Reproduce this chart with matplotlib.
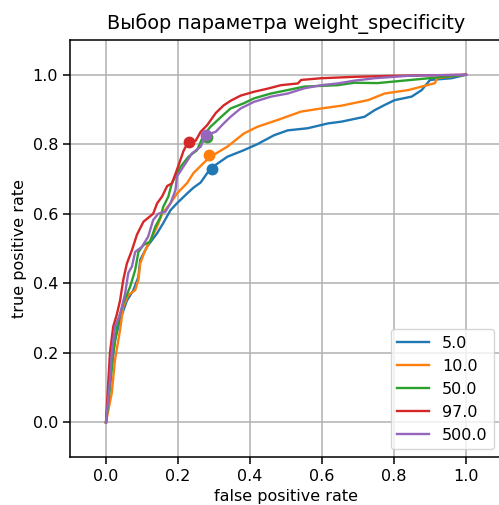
import matplotlib
matplotlib.use("Agg")
import matplotlib.pyplot as plt

title = "Выбор параметра weight_specificity"
labels = ["5.0", "10.0", "50.0", "97.0", "500.0"]
colors = ["#1f77b4", "#ff7f0e", "#2ca02c", "#d62728", "#9467bd"]

fpr_5 = [0, 0.011, 0.025, 0.039, 0.058, 0.076, 0.09, 0.095, 0.114, 0.142, 0.159, 0.179, 0.197, 0.225, 0.243, 0.263, 0.29,
         0.337, 0.383, 0.42, 0.467, 0.505, 0.56, 0.617, 0.654, 0.718, 0.746, 0.774, 0.802, 0.849, 0.877, 0.9, 0.96, 1.0]
tpr_5 = [0, 0.12, 0.236, 0.294, 0.35, 0.38, 0.418, 0.467, 0.505, 0.544, 0.573, 0.61, 0.63, 0.658, 0.675, 0.69, 0.73,
         0.764, 0.783, 0.80, 0.826, 0.84, 0.846, 0.86, 0.865, 0.879, 0.898, 0.913, 0.927, 0.937, 0.956, 0.985, 0.99, 1.0]

fpr_10 = [0, 0.016, 0.025, 0.039, 0.048, 0.062, 0.081, 0.09, 0.095, 0.109, 0.128, 0.142, 0.156, 0.179, 0.197, 0.225,
          0.243, 0.271, 0.29, 0.337, 0.383, 0.42, 0.477, 0.542, 0.598, 0.654, 0.728, 0.774, 0.84, 0.877, 0.914, 0.919,
          0.98, 1.0]
tpr_10 = [0, 0.084, 0.18, 0.265, 0.333, 0.366, 0.38, 0.41, 0.457, 0.495, 0.534, 0.563, 0.60, 0.63, 0.658, 0.688,
          0.717, 0.746, 0.764, 0.793, 0.831, 0.85, 0.87, 0.894, 0.903, 0.911, 0.927, 0.946, 0.956, 0.966, 0.976, 0.99,
          0.998, 1.0]

fpr_50 = [0, 0.011, 0.02, 0.034, 0.048, 0.067, 0.081, 0.09, 0.104, 0.123, 0.137, 0.151, 0.159, 0.173, 0.183, 0.207,
          0.229, 0.253, 0.271, 0.29, 0.318, 0.346, 0.383, 0.411, 0.458, 0.505, 0.551, 0.598, 0.644, 0.69, 0.754, 1.0]
tpr_50 = [0, 0.1, 0.2, 0.294, 0.342, 0.39, 0.438, 0.49, 0.51, 0.52, 0.563, 0.59, 0.62, 0.649, 0.688, 0.735,
          0.764, 0.783, 0.826, 0.85, 0.877, 0.903, 0.918, 0.932, 0.946, 0.956, 0.966, 0.968, 0.97, 0.977, 0.976, 1.0]

fpr_97 = [0, 0.011, 0.02, 0.03, 0.039, 0.048, 0.058, 0.072, 0.086, 0.104, 0.131, 0.142, 0.156, 0.17, 0.183, 0.2,
          0.215, 0.229, 0.249, 0.263, 0.281, 0.305, 0.327, 0.346, 0.374, 0.411, 0.449, 0.486, 0.533, 0.542, 0.598,
          0.69, 0.8, 1.0]
tpr_97 = [0, 0.2, 0.275, 0.31, 0.35, 0.41, 0.457, 0.495, 0.54, 0.577, 0.60, 0.63, 0.65, 0.68, 0.687, 0.735,
          0.78, 0.808, 0.81, 0.836, 0.855, 0.89, 0.912, 0.925, 0.94, 0.951, 0.96, 0.97, 0.975, 0.985, 0.99,
          0.994, 0.997, 1.0]

fpr_500 = [0, 0.011, 0.016, 0.025, 0.039, 0.053, 0.062, 0.072, 0.081, 0.1, 0.117, 0.131, 0.145, 0.165, 0.179, 0.193,
           0.197, 0.221, 0.239, 0.263, 0.277, 0.305, 0.327, 0.346, 0.374, 0.411, 0.458, 0.505, 0.551, 0.598, 0.644,
           0.69, 0.746, 0.84, 1.0]
tpr_500 = [0, 0.12, 0.2, 0.275, 0.31, 0.37, 0.43, 0.448, 0.49, 0.505, 0.534, 0.582, 0.60, 0.606, 0.63, 0.668,
           0.707, 0.745, 0.774, 0.793, 0.826, 0.836, 0.86, 0.879, 0.903, 0.922, 0.937, 0.946, 0.961, 0.97, 0.975,
           0.983, 0.99, 0.997, 1.0]

# chosen operating points
point_fpr = [0.295, 0.286, 0.28, 0.23, 0.277]
point_tpr = [0.728, 0.769, 0.82, 0.807, 0.826]

curves = [(fpr_5, tpr_5), (fpr_10, tpr_10), (fpr_50, tpr_50), (fpr_97, tpr_97), (fpr_500, tpr_500)]

fig = plt.figure(figsize=(4.99, 5.05), dpi=100)
ax = fig.add_axes([70 / 499, 1 - 457 / 505, 432 / 499, 417 / 505])

for (fx, ty), lab, c, px, py in zip(curves, labels, colors, point_fpr, point_tpr):
    ax.plot(fx, ty, color=c, lw=1.7, label=lab)
    ax.plot([px], [py], "o", color=c, ms=7.5)

ax.set_xlim(-0.1, 1.1)
ax.set_ylim(-0.1, 1.1)
ax.set_xticks([0.0, 0.2, 0.4, 0.6, 0.8, 1.0])
ax.set_yticks([0.0, 0.2, 0.4, 0.6, 0.8, 1.0])
ax.grid(True, color="#b0b0b0", lw=1.1)
ax.tick_params(labelsize=11.5, length=5, width=1.1)
for s in ax.spines.values():
    s.set_linewidth(1.1)
ax.set_title(title, fontsize=13.9, pad=8)
ax.set_xlabel("false positive rate", fontsize=11.5)
ax.set_ylabel("true positive rate", fontsize=11.5)
ax.legend(loc="lower right", fontsize=11.5, handlelength=2.0)

fig.savefig("out.png", dpi=100)
